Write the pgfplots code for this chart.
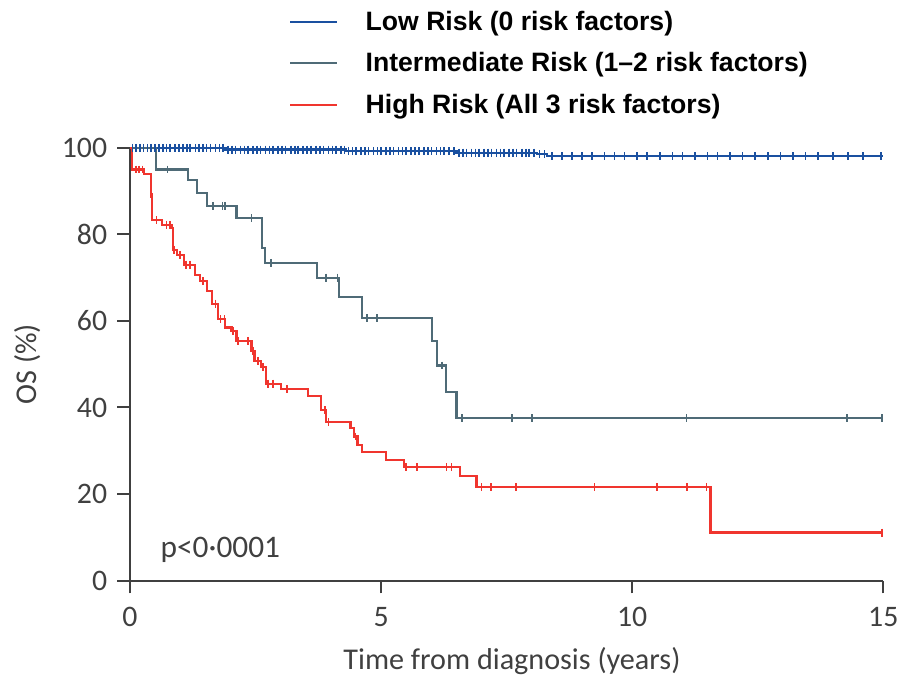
\documentclass[border=0pt]{standalone}
\usepackage{pgfplots}
\pgfplotsset{compat=1.18}
\usepackage{fontspec}
\setmainfont{Carlito}
\newfontfamily\legfont{Liberation Sans}
\definecolor{lowc}{HTML}{1A50A0}
\definecolor{midc}{HTML}{4F6B77}
\definecolor{highc}{HTML}{F0352E}
\definecolor{axc}{HTML}{404040}
\begin{document}
\begin{tikzpicture}
\begin{axis}[
  scale only axis, width=379.5pt, height=218pt,
  xmin=0, xmax=15, ymin=0, ymax=100,
  clip=false,
  axis x line=bottom, axis y line=left,
  axis line style={-, axc, line width=1pt},
  xtick={0,5,10,15}, ytick={0,20,40,60,80,100},
  minor tick num=0,
  tick align=outside, major tick length=6.5pt,
  tick style={axc, line width=1pt},
  /pgf/number format/assume math mode=true,
  tick label style={font=\fontsize{15}{17}\selectfont, text=axc},
  xticklabel style={yshift=-3.5pt},
  yticklabel style={xshift=-1.5pt},
  xlabel={Time from diagnosis (years)},
  ylabel={OS (\%)},
  label style={font=\fontsize{15.2}{17}\selectfont, text=axc},
  xlabel style={at={(rel axis cs:0.507,-0.187)}, anchor=center},
  ylabel style={at={(rel axis cs:-0.1357,0.5)}, anchor=center},
  legend style={at={(rel axis cs:0.203,1.336)}, anchor=north west, draw=none, fill=none,
    font=\legfont\bfseries\fontsize{13.4}{15}\selectfont, row sep=5.7pt, cells={anchor=west}},
  legend image code/.code={\draw[#1, line width=1pt] (0pt,0pt) -- (23.5pt,0pt); \path[draw=none] (23.5pt,0pt) -- (36pt,0pt);},
]
\addplot[const plot, lowc, line width=1.1pt] coordinates {
(0,100) (1.9,99.6) (4.3,99.2) (6.5,98.9) (8.1,98.5) (8.3,98.1) (15,98.1)};
\addlegendentry{Low Risk (0 risk factors)}
\addplot[const plot, midc, line width=1.1pt] coordinates {
(0,100) (0.51,95.0) (1.15,92.5) (1.34,89.6) (1.53,86.6) (2.12,83.7) (2.63,76.8) (2.68,73.4)
(3.73,70.0) (4.16,65.5) (4.62,60.6) (6.01,55.4) (6.11,49.7) (6.30,43.6) (6.50,37.5) (15,37.5)};
\addlegendentry{Intermediate Risk (1–2 risk factors)}
\addplot[const plot, highc, line width=1.1pt] coordinates {
(0,100) (0.04,95.0) (0.28,94.0) (0.41,89.4) (0.44,83.3) (0.63,82.2) (0.83,81.4) (0.85,76.4)
(0.94,75.3) (1.07,73.0) (1.30,70.7) (1.40,69.2) (1.53,66.9) (1.63,64.0) (1.76,60.4) (1.89,58.5)
(2.02,57.7) (2.12,55.4) (2.42,53.1) (2.48,50.8) (2.61,49.3) (2.71,45.5) (3.01,44.3) (3.54,42.7)
(3.81,39.4) (3.90,36.7) (4.39,35.2) (4.46,33.3) (4.53,31.4) (4.62,29.8) (5.10,27.9) (5.45,26.2)
(6.57,24.1) (6.90,21.6) (11.56,11.1) (15,11.1)};
\addlegendentry{High Risk (All 3 risk factors)}
% censor marks
\addplot[only marks, mark=|, mark size=2pt, lowc, mark options={line width=0.8pt}, forget plot] coordinates {
(0.05,100) (0.12,100) (0.2,100) (0.27,100) (0.35,100) (0.42,100) (0.5,100) (0.58,100) (0.66,100) (0.73,100)
(0.8,100) (0.9,100) (0.98,100) (1.05,100) (1.13,100) (1.2,100) (1.3,100) (1.37,100) (1.45,100) (1.52,100)
(1.6,100) (1.7,100) (1.78,100) (1.85,100)
(1.95,99.6) (2.03,99.6) (2.1,99.6) (2.2,99.6) (2.28,99.6) (2.35,99.6) (2.45,99.6) (2.53,99.6) (2.6,99.6)
(2.7,99.6) (2.78,99.6) (2.85,99.6) (2.95,99.6) (3.03,99.6) (3.1,99.6) (3.2,99.6) (3.28,99.6) (3.35,99.6)
(3.45,99.6) (3.52,99.6) (3.6,99.6) (3.7,99.6) (3.78,99.6) (3.85,99.6) (3.95,99.6) (4.03,99.6) (4.1,99.6)
(4.2,99.6) (4.27,99.6)
(4.35,99.2) (4.43,99.2) (4.5,99.2) (4.6,99.2) (4.68,99.2) (4.75,99.2) (4.85,99.2) (4.93,99.2) (5.0,99.2)
(5.1,99.2) (5.18,99.2) (5.25,99.2) (5.35,99.2) (5.43,99.2) (5.5,99.2) (5.6,99.2) (5.68,99.2) (5.75,99.2)
(5.85,99.2) (5.93,99.2) (6.0,99.2) (6.1,99.2) (6.18,99.2) (6.25,99.2) (6.35,99.2) (6.45,99.2)
(6.55,98.9) (6.63,98.9) (6.7,98.9) (6.8,98.9) (6.88,98.9) (6.95,98.9) (7.05,98.9) (7.13,98.9) (7.2,98.9)
(7.3,98.9) (7.38,98.9) (7.45,98.9) (7.55,98.9) (7.63,98.9) (7.7,98.9) (7.8,98.9) (7.88,98.9) (7.95,98.9)
(8.05,98.9) (8.15,98.5) (8.25,98.5)
(8.4,98.1) (8.6,98.1) (8.8,98.1) (9.0,98.1) (9.2,98.1) (9.45,98.1) (9.65,98.1) (9.85,98.1) (10.1,98.1)
(10.3,98.1) (10.55,98.1) (10.8,98.1) (11.0,98.1) (11.25,98.1) (11.5,98.1) (11.7,98.1) (11.95,98.1)
(12.2,98.1) (12.45,98.1) (12.7,98.1) (12.95,98.1) (13.2,98.1) (13.45,98.1) (13.7,98.1) (14.0,98.1)
(14.3,98.1) (14.6,98.1) (14.95,98.1)};
\addplot[only marks, mark=|, mark size=2pt, midc, mark options={line width=0.8pt}, forget plot] coordinates {
(0.75,95.0) (1.65,86.6) (1.84,86.6) (1.89,86.6) (2.42,83.7) (2.81,73.4) (3.9,70.0) (4.13,70.0)
(4.72,60.6) (4.92,60.6) (6.21,49.7) (6.61,37.5) (7.61,37.5) (8.0,37.5) (11.08,37.5) (14.28,37.5) (14.97,37.5)};
\addplot[only marks, mark=|, mark size=2pt, highc, mark options={line width=0.8pt}, forget plot] coordinates {
(0.12,95.0) (0.18,95.0) (0.25,95.0) (0.42,89.4) (0.53,83.3) (0.73,82.2) (0.80,82.2) (0.88,76.4)
(1.0,75.3) (1.12,73.0) (1.19,73.0) (1.45,69.2) (1.70,64.0) (1.80,60.4) (1.88,60.4) (2.05,57.7)
(2.15,55.4) (2.35,55.4) (2.45,53.1) (2.55,50.8) (2.65,49.3) (2.75,45.5) (2.85,45.5) (3.13,44.3)
(3.88,39.4) (3.95,36.7) (4.49,33.3) (5.50,26.2) (5.71,26.2) (6.30,26.2) (6.40,26.2) (7.0,21.6)
(7.19,21.6) (7.69,21.6) (9.25,21.6) (10.49,21.6) (11.09,21.6) (11.48,21.6) (14.97,11.1)};
\node[anchor=west, font=\fontsize{15.8}{18}\selectfont, text=axc] at (axis cs:0.47,7.2) {p<0·0001};
\path (rel axis cs:-0.1726,-0.2202) rectangle (rel axis cs:1.0198,1.3417);
\end{axis}
\end{tikzpicture}
\end{document}
